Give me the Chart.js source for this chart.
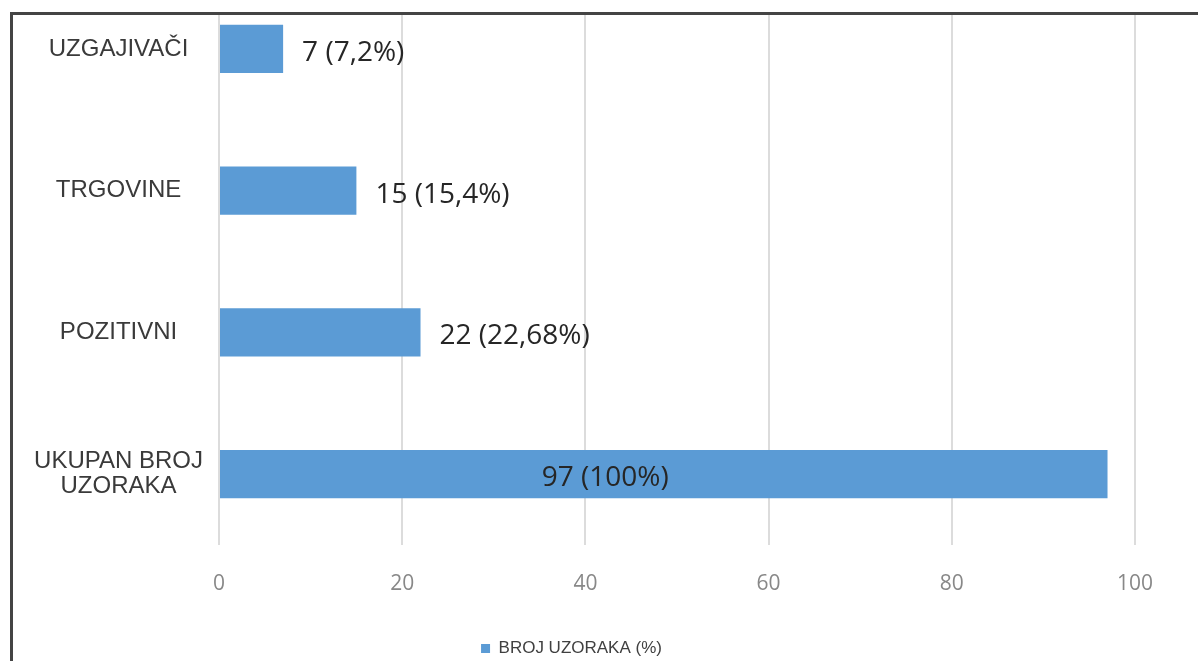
<!DOCTYPE html>
<html>
<head>
<meta charset="utf-8">
<script src="https://cdn.jsdelivr.net/npm/chart.js@4.4.1/dist/chart.umd.min.js"></script>
<style>
  html, body { margin: 0; padding: 0; background: #fff; overflow: hidden; }
  #page { position: relative; width: 1198px; height: 661px; overflow: hidden; background: #fff; }
  #frame {
    position: absolute; left: 10px; top: 12px; width: 1188px; height: 649px;
    border-top: 3px solid #444; border-left: 3px solid #444; overflow: hidden;
  }
  #wrap { position: absolute; left: -13px; top: -37px; width: 1198px; height: 690px; }
</style>
</head>
<body>
<div id="page">
  <div id="frame">
    <div id="wrap"><canvas id="barChart"></canvas></div>
  </div>
</div>
<script>
// categories, top to bottom
const categories = ['UZGAJIVAČI', 'TRGOVINE', 'POZITIVNI', ['UKUPAN BROJ', 'UZORAKA']];
const sampleCounts = [7, 15, 22, 97];
const valueLabels = ['7 (7,2%)', '15 (15,4%)', '22 (22,68%)', '97 (100%)'];
const labelInside = [false, false, false, true];
const seriesName = 'BROJ UZORAKA (%)';
const xTicks = [0, 20, 40, 60, 80, 100];

const BLUE = '#5B9BD5';

// draws the "n (x%)" labels next to / inside the bars
const barValueLabels = {
    id: 'barValueLabels',
    afterDatasetsDraw(chart) {
        const ctx = chart.ctx;
        const meta = chart.getDatasetMeta(0);
        ctx.save();
        ctx.font = '28px "Open Sans", sans-serif';
        ctx.fillStyle = '#262626';
        ctx.textBaseline = 'middle';
        meta.data.forEach((bar, i) => {
            if (labelInside[i]) {
                ctx.textAlign = 'center';
                ctx.fillText(valueLabels[i], bar.base + (bar.x - bar.base) * 0.434, bar.y + 4);
            } else {
                ctx.textAlign = 'left';
                ctx.fillText(valueLabels[i], bar.x + 19, bar.y + 4);
            }
        });
        ctx.restore();
    }
};

// nudge the legend a little, it is not quite centred in the original
const legendNudge = {
    id: 'legendNudge',
    afterLayout(chart) {
        const lg = chart.legend;
        lg.left += 4; lg.right += 4;
        lg.top += 2; lg.bottom += 2;
    }
};

const ctx = document.getElementById('barChart').getContext('2d');

new Chart(ctx, {
    type: 'bar',
    data: {
        labels: categories,
        datasets: [{
            label: seriesName,
            data: sampleCounts,
            backgroundColor: BLUE,
            borderWidth: 0,
            barPercentage: 0.34,
            categoryPercentage: 1
        }]
    },
    options: {
        indexAxis: 'y',
        responsive: true,
        maintainAspectRatio: false,
        animation: false,
        layout: { padding: { left: 0, right: 63, top: 0, bottom: 3 } },
        plugins: {
            legend: {
                display: true,
                position: 'bottom',
                labels: {
                    boxWidth: 9,
                    boxHeight: 9,
                    padding: 10,
                    color: '#404040',
                    font: { family: '"Liberation Sans", Arial, sans-serif', size: 17 }
                }
            },
            tooltip: { enabled: false }
        },
        scales: {
            x: {
                min: 0,
                max: 100,
                afterBuildTicks: (scale) => { scale.ticks = xTicks.map(v => ({ value: v })); },
                afterFit: (scale) => { scale.height = 83; },
                grid: { color: '#dcdcdc', lineWidth: 2, drawTicks: false },
                border: { display: false },
                ticks: {
                    padding: 26,
                    color: '#888888',
                    font: { family: '"Open Sans", sans-serif', size: 21 }
                }
            },
            y: {
                afterFit: (scale) => {
                    scale.width = 219;
                    scale.paddingTop = 0;
                    scale.paddingBottom = 0;
                },
                grid: { display: false, drawTicks: false },
                border: { display: false },
                ticks: {
                    crossAlign: 'center',
                    padding: 16,
                    color: '#3a3a3a',
                    font: { family: '"Liberation Sans", Arial, sans-serif', size: 24, lineHeight: 1.05 }
                }
            }
        }
    },
    plugins: [barValueLabels, legendNudge]
});
</script>
</body>
</html>
